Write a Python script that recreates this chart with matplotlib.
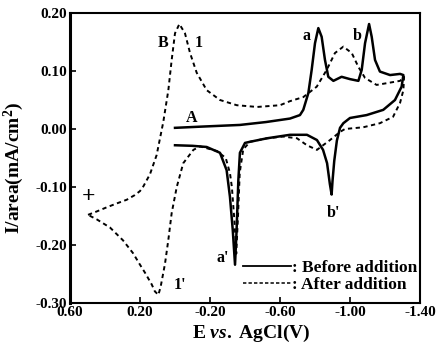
import matplotlib
matplotlib.use("Agg")
import matplotlib.pyplot as plt
from matplotlib.lines import Line2D

plt.rcParams['font.family'] = ['Liberation Serif', 'DejaVu Serif']
plt.rcParams['font.weight'] = 'bold'
plt.rcParams['mathtext.fontset'] = 'custom'
plt.rcParams['mathtext.rm'] = 'Liberation Serif:bold'
plt.rcParams['mathtext.bf'] = 'Liberation Serif:bold'
plt.rcParams['mathtext.it'] = 'Liberation Serif:italic:bold'

# Before addition (solid): potential (V) and current density (mA/cm2)
before_E = [0.000, -0.143, -0.371, -0.520, -0.657, -0.714, -0.733, -0.762, -0.781, -0.800,
            -0.819, -0.838, -0.857, -0.876, -0.905, -0.952, -1.000, -1.048, -1.067,
            -1.086, -1.109, -1.124, -1.143, -1.171, -1.229, -1.286, -1.305,
            -1.295, -1.257, -1.190, -1.095, -1.000, -0.962, -0.943, -0.925, -0.910,
            -0.900, -0.895, -0.885, -0.869, -0.846, -0.811, -0.754, -0.657, -0.526,
            -0.429, -0.400, -0.371, -0.362, -0.352, -0.343, -0.330, -0.314, -0.295,
            -0.257, -0.181, -0.100, 0.000]
before_I = [0.002, 0.004, 0.007, 0.012, 0.018, 0.024, 0.033, 0.062, 0.102, 0.148,
            0.174, 0.159, 0.119, 0.090, 0.083, 0.090, 0.086, 0.083, 0.102,
            0.148, 0.181, 0.159, 0.119, 0.099, 0.093, 0.095, 0.093,
            0.073, 0.050, 0.033, 0.024, 0.019, 0.010, 0.002, -0.020, -0.055,
            -0.090, -0.113, -0.095, -0.059, -0.036, -0.019, -0.010, -0.010, -0.016,
            -0.022, -0.024, -0.041, -0.088, -0.174, -0.234, -0.174, -0.117, -0.071,
            -0.041, -0.031, -0.029, -0.028]

# After addition (dashed)
after_E = [0.497, 0.446, 0.390, 0.330, 0.276, 0.230, 0.200, 0.181, 0.143, 0.105,
           0.067, 0.038, 0.019, 0.000, -0.025, -0.057, -0.086, -0.124, -0.181,
           -0.257, -0.353, -0.469, -0.600, -0.657, -0.733, -0.810, -0.867, -0.914,
           -0.962, -1.010, -1.048, -1.086, -1.152, -1.210, -1.286, -1.309,
           -1.305, -1.286, -1.246, -1.171, -1.076, -0.971, -0.943, -0.886, -0.811,
           -0.754, -0.697, -0.617, -0.526, -0.429, -0.390, -0.370, -0.360, -0.350,
           -0.340, -0.325, -0.314, -0.290, -0.240, -0.143, -0.105, -0.047, -0.010,
           0.019, 0.038, 0.057, 0.082, 0.095, 0.115, 0.133, 0.171, 0.200, 0.240, 0.297,
           0.371, 0.446, 0.497]
after_I = [-0.148, -0.142, -0.135, -0.128, -0.122, -0.114, -0.107, -0.099, -0.078, -0.045,
           0.012, 0.067, 0.119, 0.165, 0.181, 0.165, 0.131, 0.097, 0.067,
           0.050, 0.041, 0.038, 0.041, 0.048, 0.055, 0.073, 0.102, 0.131,
           0.142, 0.131, 0.107, 0.088, 0.076, 0.079, 0.083, 0.090,
           0.067, 0.045, 0.021, 0.010, 0.003, 0.000, -0.005, -0.019, -0.036,
           -0.028, -0.016, -0.013, -0.016, -0.022, -0.035, -0.075, -0.150, -0.215,
           -0.160, -0.100, -0.076, -0.050, -0.038, -0.030, -0.036, -0.059, -0.100,
           -0.145, -0.191, -0.232, -0.272, -0.286, -0.280, -0.268, -0.248, -0.234, -0.214, -0.192,
           -0.170, -0.156, -0.148]

x_ticks = [0.60, 0.20, -0.20, -0.60, -1.00, -1.40]
x_tick_labels = ["0.60", "0.20", "-0.20", "-0.60", "-1.00", "-1.40"]
y_ticks = [0.20, 0.10, 0.00, -0.10, -0.20, -0.30]
y_tick_labels = ["0.20", "0.10", "0.00", "-0.10", "-0.20", "-0.30"]

annotations = [("B", 0.069, 0.148), ("1", -0.137, 0.148), ("A", -0.097, 0.019),
               ("a", -0.754, 0.160), ("b", -1.040, 0.160), ("b'", -0.903, -0.145),
               ("a'", -0.274, -0.222), ("1'", -0.029, -0.269), ("+", 0.497, -0.117)]

fig = plt.figure(figsize=(4.36, 3.44), dpi=100)
ax = fig.add_axes([70/436, 1 - 303/344, 350/436, 290/344])

ax.plot(before_E, before_I, color='black', lw=1.8, solid_joinstyle='round')
ax.plot(after_E, after_I, color='black', lw=1.4, linestyle=(0, (2.2, 1.8)))

for txt, xe, yi in annotations:
    size = 17 if txt == "+" else 11.5
    ax.text(xe, yi, txt, ha='center', va='center', fontsize=size, fontweight='bold')

ax.set_xlim(0.60, -1.40)
ax.set_ylim(-0.30, 0.20)
ax.set_xticks(x_ticks)
ax.set_xticklabels(x_tick_labels)
ax.set_yticks(y_ticks)
ax.set_yticklabels(y_tick_labels)
ax.tick_params(direction='in', length=4, width=1.2, labelsize=11, pad=2)
for lab in ax.get_xticklabels() + ax.get_yticklabels():
    lab.set_fontweight('bold')
for side in ['top', 'right', 'bottom']:
    ax.spines[side].set_linewidth(1.5)
ax.spines['left'].set_linewidth(2.2)

ax.set_xlabel(r"E $\mathit{vs.}$ AgCl(V)", fontsize=14, fontweight='bold')
ax.set_ylabel(r"I/area(mA/cm$^2$)", fontsize=14, fontweight='bold')
ax.xaxis.set_label_coords(0.517, -0.068)
ax.yaxis.set_label_coords(-0.125, 0.466)

handles = [Line2D([], [], color='black', lw=1.3),
           Line2D([], [], color='black', lw=1.1, linestyle=(0, (2.2, 1.4)))]
leg = ax.legend(handles, [": Before addition", ": After addition"], loc='lower right',
                bbox_to_anchor=(1.02, 0.0), frameon=False, handlelength=2.8,
                handletextpad=0.05, labelspacing=0.05, borderaxespad=0.15,
                prop={'family': 'Liberation Serif', 'weight': 'bold', 'size': 12.5})

fig.savefig("out.png", dpi=100)
